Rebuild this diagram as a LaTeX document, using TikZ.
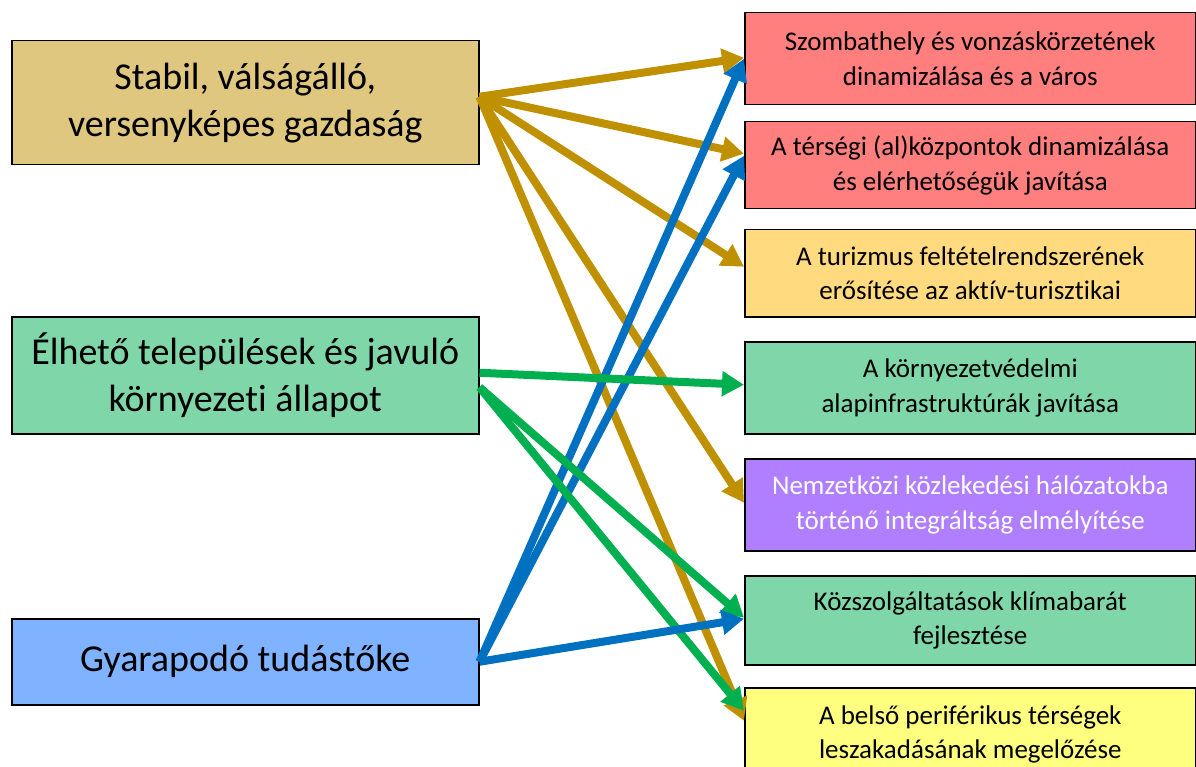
\documentclass[tikz,border=0pt]{standalone}
\usepackage{fontspec}
\setmainfont[Ligatures=NoCommon]{Carlito}
\usetikzlibrary{arrows.meta}
\definecolor{tanbox}{HTML}{DFC77F}
\definecolor{greenbox}{HTML}{7FD6A8}
\definecolor{bluebox}{HTML}{7FB2FF}
\definecolor{redbox}{HTML}{FF7F7F}
\definecolor{orangebox}{HTML}{FFDA7F}
\definecolor{purplebox}{HTML}{B07FFF}
\definecolor{yellowbox}{HTML}{FFFF7F}
\definecolor{tanline}{HTML}{BF9000}
\definecolor{greenline}{HTML}{00B050}
\definecolor{blueline}{HTML}{0070C0}
\begin{document}
\begin{tikzpicture}[x=1pt,y=-1pt,
  box/.style={draw=black, line width=1.5pt, inner sep=0pt, align=center, anchor=north west},
  leftbox/.style={box, minimum width=467pt, font=\fontsize{38}{47}\selectfont},
  rightbox/.style={box, minimum width=451pt, font=\fontsize{27}{34.5}\selectfont},
  conn/.style={line width=8pt, -{Triangle[length=22pt,width=24pt]}}
]
\useasboundingbox (0,0) rectangle (1196,767);
\clip (0,0) rectangle (1196,767);
% left boxes
\node[leftbox, fill=tanbox, minimum height=124pt] (L1) at (11,40) {Stabil, válságálló,\\versenyképes gazdaság};
\node[leftbox, fill=greenbox, minimum height=117pt] (L2) at (11,316) {Élhető települések és javuló\\környezeti állapot};
\node[leftbox, fill=bluebox, minimum height=86pt] (L3) at (11,618) {Gyarapodó tudástőke};
% right boxes
\node[rightbox, fill=redbox, minimum height=92pt] (R1) at (744,12) {Szombathely és vonzáskörzetének\\dinamizálása és a város};
\node[rightbox, fill=redbox, minimum height=87pt] (R2) at (744,121) {A térségi (al)központok dinamizálása\\és elérhetőségük javítása};
\node[rightbox, fill=orangebox, minimum height=87pt] (R3) at (744,229) {A turizmus feltételrendszerének\\erősítése az aktív-turisztikai};
\node[rightbox, fill=greenbox, minimum height=92pt] (R4) at (744,341) {A környezetvédelmi\\alapinfrastruktúrák javítása};
\node[rightbox, fill=purplebox, minimum height=92pt, text=white] (R5) at (744,458) {Nemzetközi közlekedési hálózatokba\\történő integráltság elmélyítése};
\node[rightbox, fill=greenbox, minimum height=89pt] (R6) at (744,575) {Közszolgáltatások klímabarát\\fejlesztése};
\node[rightbox, fill=yellowbox, minimum height=93pt] (R7) at (744,687) {A belső periférikus térségek\\leszakadásának megelőzése};
% tan arrows
\draw[conn, tanline] ([yshift=6pt]L1.east) -- ([yshift=1pt]R1.west);
\draw[conn, tanline] ([yshift=6pt]L1.east) -- ([yshift=11.5pt]R2.west);
\draw[conn, tanline] ([yshift=6pt]L1.east) -- ([yshift=6.5pt]R3.west);
\draw[conn, tanline] ([yshift=6pt]L1.east) -- ([yshift=2pt]R5.west);
\draw[conn, tanline] ([yshift=6pt]L1.east) -- ([yshift=13.5pt]R7.west);
% blue arrows to top
\draw[conn, blueline] (L3.east) -- (R1.west);
\draw[conn, blueline] (L3.east) -- ([yshift=9.5pt]R2.west);
% green arrows
\draw[conn, greenline] ([yshift=2.5pt]L2.east) -- ([yshift=3pt]R4.west);
\draw[conn, greenline] ([yshift=-12pt]L2.east) -- ([yshift=2.5pt]R6.west);
\draw[conn, greenline] ([yshift=-12pt]L2.east) -- ([yshift=23.5pt]R7.west);
% blue arrow to R6
\draw[conn, blueline] (L3.east) -- ([yshift=1.5pt]R6.west);
\end{tikzpicture}
\end{document}
